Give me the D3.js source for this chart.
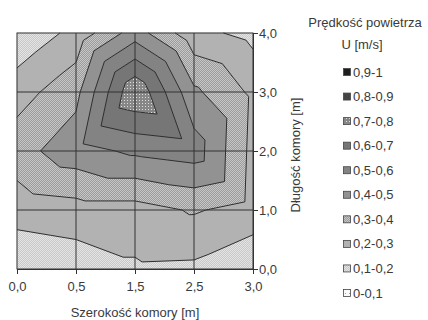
<!DOCTYPE html>
<html>
<head>
<meta charset="utf-8">
<script src="https://cdn.jsdelivr.net/npm/d3@7"></script>
<style>
  body { margin: 0; background: #fff; }
  text { font-family: "Liberation Sans", Arial, sans-serif; fill: #3a3a3a; }
</style>
</head>
<body>
<svg id="chart" width="428" height="320"></svg>
<script>
// categories along the width (x) and the length (y)
const xLabels = ["0,0", "0,5", "1,5", "2,5", "3,0"];
const yLabels = ["0,0", "1,0", "2,0", "3,0", "4,0"];

// air velocity U [m/s], one row per length tick (0,0 .. 4,0)
const velocity = [
  [0.12, 0.14, 0.185, 0.18, 0.117],
  [0.24, 0.26, 0.26, 0.31, 0.26],
  [0.36, 0.46, 0.52, 0.55, 0.27],
  [0.255, 0.37, 0.79, 0.42, 0.28],
  [0.12, 0.23, 0.45, 0.23, 0.17]
];

const bandLevels = [0, 0.1, 0.2, 0.3, 0.4, 0.5, 0.6, 0.7, 0.8, 0.9, 1.0];
const bandLabels = ["0-0,1", "0,1-0,2", "0,2-0,3", "0,3-0,4", "0,4-0,5",
                    "0,5-0,6", "0,6-0,7", "0,7-0,8", "0,8-0,9", "0,9-1"];

const bandFills = ["url(#p0)", "url(#p1)", "#b2b2b2", "url(#p3)", "#929292",
                   "#838383", "#767676", "url(#p7)", "#444", "#1e1e1e"];

const svg = d3.select("#chart");

// fill patterns
const defs = svg.append("defs");
function pattern(id, size, bg, dots) {
  const p = defs.append("pattern").attr("id", id)
    .attr("patternUnits", "userSpaceOnUse")
    .attr("width", size).attr("height", size);
  p.append("rect").attr("width", size).attr("height", size).attr("fill", bg);
  dots.forEach(d => p.append("rect").attr("x", d[0]).attr("y", d[1])
    .attr("width", 1).attr("height", 1).attr("fill", d[2]));
}
pattern("p0", 4, "#fafafa", [[1, 1, "#a0a0a0"]]);
pattern("p1", 2, "#c8c8c8", [[0, 0, "#e4e4e4"], [1, 1, "#e4e4e4"]]);
pattern("p3", 2, "#9c9c9c", [[0, 0, "#c6c6c6"], [1, 1, "#c6c6c6"]]);
pattern("p7", 3, "#878787", [[1, 1, "#dedede"]]);

const x = d3.scaleLinear().domain([0, xLabels.length - 1]).range([17, 253]);
const y = d3.scaleLinear().domain([0, yLabels.length - 1]).range([269, 33]);

// split every grid cell into two triangles along its higher diagonal,
// value is linear inside each triangle
const tris = [];
for (let j = 0; j < yLabels.length - 1; j++) {
  for (let i = 0; i < xLabels.length - 1; i++) {
    const p = (a, b) => ({ x: a, y: b, v: velocity[b][a] });
    const a = p(i, j), b = p(i + 1, j), c = p(i + 1, j + 1), d = p(i, j + 1);
    if (a.v + c.v >= b.v + d.v) {
      tris.push([a, b, c], [a, c, d]);
    } else {
      tris.push([a, b, d], [b, c, d]);
    }
  }
}

function clip(poly, t, above) {
  const out = [];
  for (let k = 0; k < poly.length; k++) {
    const a = poly[k], b = poly[(k + 1) % poly.length];
    const ina = above ? a.v >= t : a.v <= t;
    const inb = above ? b.v >= t : b.v <= t;
    if (ina) out.push(a);
    if (ina !== inb) {
      const s = (t - a.v) / (b.v - a.v);
      out.push({ x: a.x + s * (b.x - a.x), y: a.y + s * (b.y - a.y), v: t });
    }
  }
  return out;
}

const toPath = poly => "M" + poly.map(q => x(q.x) + "," + y(q.y)).join("L") + "Z";

const bands = svg.append("g");
bandLabels.forEach((lab, b) => {
  const lo = bandLevels[b], hi = bandLevels[b + 1];
  const polys = tris.map(t => clip(clip(t, lo, true), hi, false))
    .filter(p => p.length >= 3);
  if (!polys.length) return;
  bands.append("path")
    .attr("d", polys.map(toPath).join(""))
    .attr("fill", bandFills[b])
    .attr("stroke", bandFills[b])
    .attr("stroke-width", 0.4);
});

// contour lines
const segs = [];
bandLevels.slice(1, -1).forEach(t => {
  tris.forEach(tri => {
    const pts = [];
    for (let k = 0; k < 3; k++) {
      const a = tri[k], b = tri[(k + 1) % 3];
      if ((a.v - t) * (b.v - t) < 0) {
        const s = (t - a.v) / (b.v - a.v);
        pts.push([a.x + s * (b.x - a.x), a.y + s * (b.y - a.y)]);
      }
    }
    if (pts.length === 2) segs.push(pts);
  });
});
svg.append("path")
  .attr("d", segs.map(s => `M${x(s[0][0])},${y(s[0][1])}L${x(s[1][0])},${y(s[1][1])}`).join(""))
  .attr("fill", "none")
  .attr("stroke", "#2e2e2e")
  .attr("stroke-width", 1);

// gridlines
const grid = svg.append("g").attr("stroke", "#333").attr("stroke-width", 1);
d3.range(1, xLabels.length - 1).forEach(i => grid.append("line")
  .attr("x1", x(i)).attr("x2", x(i)).attr("y1", y.range()[0]).attr("y2", y.range()[1]));
d3.range(1, yLabels.length - 1).forEach(j => grid.append("line")
  .attr("x1", x.range()[0]).attr("x2", x.range()[1]).attr("y1", y(j)).attr("y2", y(j)));

svg.append("rect")
  .attr("x", 17).attr("y", 33).attr("width", 236).attr("height", 236)
  .attr("fill", "none").attr("stroke", "#333").attr("stroke-width", 1);

// axes
const xAxis = svg.append("g").attr("transform", "translate(0,269)")
  .call(d3.axisBottom(x).tickValues(d3.range(xLabels.length))
    .tickFormat(i => xLabels[i]).tickSize(5).tickSizeOuter(0));
const yAxis = svg.append("g").attr("transform", "translate(253,0)")
  .call(d3.axisRight(y).tickValues(d3.range(yLabels.length))
    .tickFormat(j => yLabels[j]).tickSize(5).tickSizeOuter(0));
[xAxis, yAxis].forEach(a => {
  a.select(".domain").attr("stroke", "#333");
  a.selectAll(".tick line").attr("stroke", "#333");
  a.selectAll(".tick text").attr("fill", "#3a3a3a")
    .style("font-size", "13px").style("font-family", "Liberation Sans, Arial, sans-serif");
});
xAxis.selectAll(".tick text").attr("dy", "1.1em");
yAxis.selectAll(".tick text").attr("x", 6);

// axis titles
svg.append("text").attr("x", 135).attr("y", 317).attr("text-anchor", "middle")
  .style("font-size", "13px").text("Szerokość komory [m]");
svg.append("text").attr("transform", "translate(300,155) rotate(-90)")
  .attr("text-anchor", "middle").style("font-size", "13px").text("Długość komory [m]");

// legend
svg.append("text").attr("x", 365).attr("y", 27).attr("text-anchor", "middle")
  .style("font-size", "13px").text("Prędkość powietrza");
svg.append("text").attr("x", 362).attr("y", 49).attr("text-anchor", "middle")
  .style("font-size", "13px").text("U [m/s]");

const legend = svg.append("g");
const order = d3.range(bandLabels.length).reverse();
const ly = d3.scalePoint().domain(order).range([72, 293]);
order.forEach(b => {
  legend.append("rect").attr("x", 343.5).attr("y", ly(b) - 3.5)
    .attr("width", 7).attr("height", 7)
    .attr("fill", bandFills[b]).attr("stroke", "#444").attr("stroke-width", 0.8);
  legend.append("text").attr("x", 353).attr("y", ly(b) + 4.5)
    .style("font-size", "13px").text(bandLabels[b]);
});
</script>
</body>
</html>
